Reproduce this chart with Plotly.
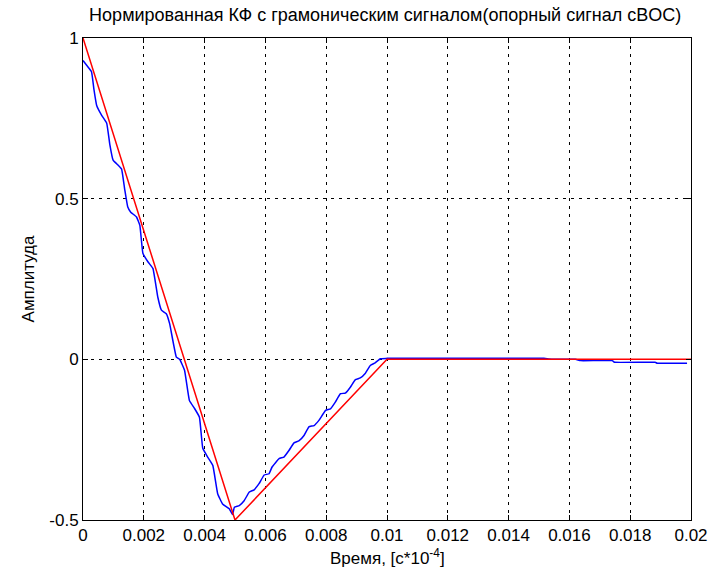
import plotly.graph_objects as go

# Red: normalized reference correlation function (cBOC)
red_x = [0.0, 0.005, 0.010, 0.020]
red_y = [1.0, -0.5, 0.0, 0.0]

# Blue: normalized correlation function with harmonic signal
blue_x = [0.0, 0.00012, 0.00028, 0.00036, 0.00045, 0.00061, 0.00078, 0.00088, 0.00099,
          0.00116, 0.00127, 0.00137, 0.00147, 0.00157, 0.00176, 0.00187, 0.00197,
          0.00214, 0.00230, 0.00246, 0.00258, 0.00274, 0.00285, 0.00307, 0.00318,
          0.00334, 0.00350, 0.00367, 0.00383, 0.00394, 0.00410, 0.00427, 0.00443,
          0.00459, 0.00481, 0.00492, 0.00498, 0.00514, 0.00530, 0.00547, 0.00563,
          0.00579, 0.00596, 0.00612, 0.00622, 0.00645, 0.00661, 0.00678, 0.00694,
          0.00710, 0.00727, 0.00743, 0.00760, 0.00776, 0.00798, 0.00814, 0.00830,
          0.00847, 0.00863, 0.00880, 0.00896, 0.00912, 0.00929, 0.00945, 0.00961,
          0.00978, 0.01000, 0.01516, 0.01545, 0.01620, 0.01637, 0.01741, 0.01748,
          0.01882, 0.01889, 0.01987]
blue_y = [0.93, 0.915, 0.895, 0.84, 0.79, 0.76, 0.735, 0.67, 0.62,
          0.604, 0.592, 0.53, 0.475, 0.458, 0.443, 0.417, 0.33,
          0.303, 0.283, 0.194, 0.153, 0.142, 0.111, 0.007, 0.0,
          -0.034, -0.128, -0.153, -0.18, -0.277, -0.304, -0.33, -0.418,
          -0.45, -0.465, -0.483, -0.46, -0.455, -0.44, -0.413, -0.406,
          -0.387, -0.36, -0.356, -0.335, -0.309, -0.304, -0.283, -0.26,
          -0.254, -0.237, -0.21, -0.206, -0.19, -0.159, -0.154, -0.133,
          -0.107, -0.105, -0.086, -0.063, -0.058, -0.043, -0.019, -0.011,
          0.002, 0.003, 0.003, 0.0, 0.0, -0.004, -0.004, -0.009,
          -0.009, -0.012, -0.012]

x_ticks = [0, 0.002, 0.004, 0.006, 0.008, 0.01, 0.012, 0.014, 0.016, 0.018, 0.02]
x_ticktext = ["0", "0.002", "0.004", "0.006", "0.008", "0.01", "0.012", "0.014", "0.016", "0.018", "0.02"]
y_ticks = [-0.5, 0, 0.5, 1]
y_ticktext = ["-0.5", "0", "0.5", "1"]

title = "Нормированная КФ с грамоническим сигналом(опорный сигнал cBOC)"
x_label = "Время, [c*10<sup>-4</sup>]"
y_label = "Амплитуда"

font_family = "Liberation Sans, Arial, sans-serif"

fig = go.Figure()
fig.add_trace(go.Scatter(x=blue_x, y=blue_y, mode="lines",
                         line=dict(color="#0000ff", width=1.5, shape="spline", smoothing=0.3),
                         showlegend=False))
fig.add_trace(go.Scatter(x=red_x, y=red_y, mode="lines",
                         line=dict(color="#ff0000", width=1.5),
                         showlegend=False))

axis_common = dict(
    showline=True, linecolor="black", linewidth=1, mirror="ticks",
    ticks="inside", ticklen=5, tickcolor="black",
    showgrid=True, gridcolor="black", gridwidth=1, griddash="3px,5px",
    zeroline=False,
    tickfont=dict(family=font_family, size=17, color="black"),
)

fig.update_xaxes(range=[0, 0.02], tickvals=x_ticks, ticktext=x_ticktext, **axis_common)
fig.update_yaxes(range=[-0.5, 1], tickvals=y_ticks, ticktext=y_ticktext,
                 title=dict(text=y_label, font=dict(family=font_family, size=17, color="black"), standoff=10),
                 **axis_common)

fig.add_annotation(text=x_label, xref="paper", yref="paper", x=0.5, y=-0.077,
                   xanchor="center", yanchor="middle", showarrow=False,
                   font=dict(family=font_family, size=17, color="black"))

fig.update_layout(
    width=720, height=575,
    paper_bgcolor="white", plot_bgcolor="white",
    margin=dict(l=83, r=26, t=38, b=55),
    title=dict(text=title, x=0.535, xanchor="center", y=0.985, yanchor="top",
               font=dict(family=font_family, size=18, color="black")),
)

fig.write_html("out.html")
